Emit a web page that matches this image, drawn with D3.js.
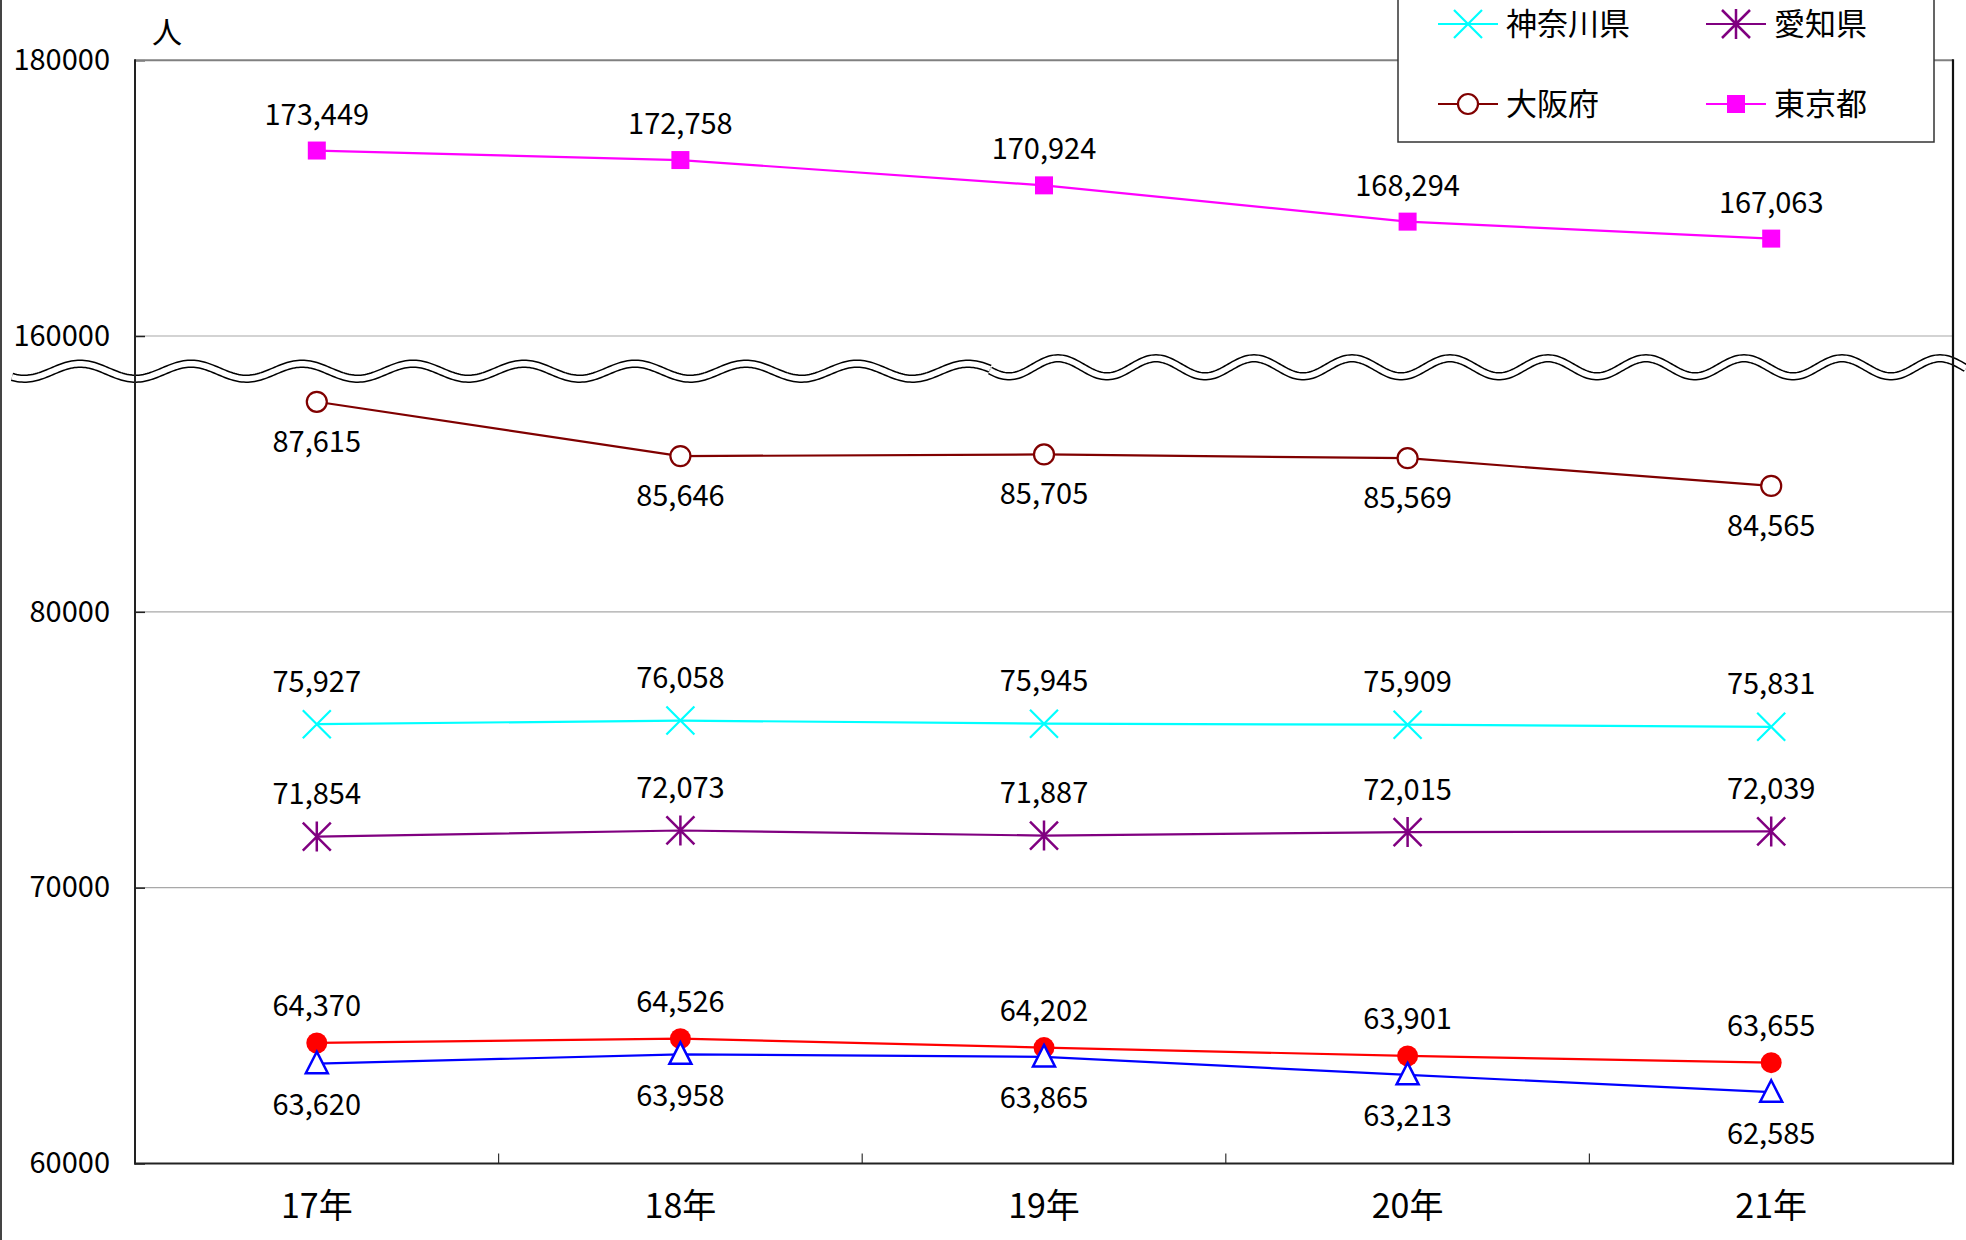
<!DOCTYPE html>
<html>
<head>
<meta charset="utf-8">
<script src="https://cdn.jsdelivr.net/npm/d3@7"></script>
<style>
  html, body { margin: 0; padding: 0; background: #fff; }
  svg { display: block; }
  text { font-family: "Noto Sans CJK JP", "Noto Sans", sans-serif; fill: #000; }
</style>
</head>
<body>
<svg id="chart" width="1966" height="1240"></svg>
<script>
// ---- data ----
const years = ["17年", "18年", "19年", "20年", "21年"];
const tokyo    = [173449, 172758, 170924, 168294, 167063];
const osaka    = [87615, 85646, 85705, 85569, 84565];
const kanagawa = [75927, 76058, 75945, 75909, 75831];
const aichi    = [71854, 72073, 71887, 72015, 72039];
const redSeries  = [64370, 64526, 64202, 63901, 63655];
const blueSeries = [63620, 63958, 63865, 63213, 62585];
const lowerTicks = [60000, 70000, 80000];
const upperTicks = [160000, 180000];
const unitLabel = "人";

const series = [
  { name: "東京都", values: tokyo, color: "#FF00FF", marker: "square", pos: "above", off: 26 },
  { name: "大阪府", values: osaka, color: "#800000", marker: "circleOpen", pos: "below", off: 50 },
  { name: "神奈川県", values: kanagawa, color: "#00FFFF", marker: "x", pos: "above", off: 32.5 },
  { name: "愛知県", values: aichi, color: "#800080", marker: "asterisk", pos: "above", off: 32.5 },
  { name: "red", values: redSeries, color: "#FF0000", marker: "circle", pos: "above", off: 27 },
  { name: "blue", values: blueSeries, color: "#0000FF", marker: "triangleOpen", pos: "below", off: 51.5 }
];
const legendItems = [
  { name: "神奈川県", color: "#00FFFF", marker: "x" },
  { name: "愛知県", color: "#800080", marker: "asterisk" },
  { name: "大阪府", color: "#800000", marker: "circleOpen" },
  { name: "東京都", color: "#FF00FF", marker: "square" }
];

// ---- layout ----
const L = 135, R = 1953, T = 60.2, B = 1163.5, BRK = 336;
const svg = d3.select("#chart");

const x = d3.scaleBand().domain(years).range([L, R]).padding(0);
const cx = d => x(d) + x.bandwidth() / 2;
const yLow = d3.scaleLinear().domain([60000, 90000]).range([B, BRK]);
const yUp = d3.scaleLinear().domain([160000, 180000]).range([BRK, T]);
const y = v => v >= 160000 ? yUp(v) : yLow(v);

// gridlines
const grid = svg.append("g");
[[yLow, [70000, 80000]], [yUp, [160000]]].forEach(([s, vals]) => {
  grid.selectAll(null).data(vals).enter().append("line")
    .attr("x1", L).attr("x2", R).attr("y1", d => s(d)).attr("y2", d => s(d))
    .attr("stroke", "#a8a8a8").attr("stroke-width", 1.2);
});

// y axes
function styleAxis(g) {
  g.select(".domain").remove();
  g.selectAll(".tick line").attr("stroke", "#222").attr("stroke-width", 1.5);
  g.selectAll(".tick text").style("font-size", "29px").style("font-family", "'Noto Sans CJK JP'").attr("fill", "#000");
}
svg.append("g").attr("transform", `translate(${L},0)`)
  .call(d3.axisLeft(yLow).tickValues(lowerTicks).tickSize(-10).tickPadding(25).tickFormat(d3.format("d")))
  .call(styleAxis);
svg.append("g").attr("transform", `translate(${L},0)`)
  .call(d3.axisLeft(yUp).tickValues(upperTicks).tickSize(-10).tickPadding(25).tickFormat(d3.format("d")))
  .call(styleAxis);

// x axis labels
const xg = svg.append("g").attr("transform", `translate(0,${B})`)
  .call(d3.axisBottom(x).tickSize(0).tickPadding(0));
xg.select(".domain").remove();
xg.selectAll(".tick text").attr("dy", null).attr("y", 54)
  .style("font-size", "34px").style("font-family", "'Noto Sans CJK JP'").attr("fill", "#000");
// x boundary ticks (inside)
svg.append("g").selectAll("line").data(years.slice(1)).enter().append("line")
  .attr("x1", d => x(d)).attr("x2", d => x(d)).attr("y1", B).attr("y2", B - 10)
  .attr("stroke", "#333").attr("stroke-width", 1.2);

// break wave (decoration)
function wavePath(x0, x1, cy, amp, period, crestX) {
  const pts = d3.range(x0, x1 + 0.5, 2).map(px => [px, cy - amp * Math.cos(2 * Math.PI * (px - crestX) / period)]);
  return d3.line()(pts);
}
const waves = [
  wavePath(12, 990, 371.2, 7.5, 111, 80),
  wavePath(990, 1966, 367.3, 9, 98, 1058)
];
const wg = svg.append("g");
waves.forEach(p => {
  wg.append("path").attr("d", p).attr("fill", "none").attr("stroke", "#000").attr("stroke-width", 8.5);
});
waves.forEach(p => {
  wg.append("path").attr("d", p).attr("fill", "none").attr("stroke", "#fff").attr("stroke-width", 5.5);
});

// frame
svg.append("line").attr("x1", L).attr("x2", R).attr("y1", T).attr("y2", T).attr("stroke", "#808080").attr("stroke-width", 2);
svg.append("line").attr("x1", L).attr("x2", L).attr("y1", T - 1).attr("y2", B + 1).attr("stroke", "#222").attr("stroke-width", 2);
svg.append("line").attr("x1", R).attr("x2", R).attr("y1", T - 1).attr("y2", B + 1).attr("stroke", "#111").attr("stroke-width", 2.2);
svg.append("line").attr("x1", L - 1).attr("x2", R + 1).attr("y1", B).attr("y2", B).attr("stroke", "#222").attr("stroke-width", 2.2);
svg.append("line").attr("x1", 1).attr("x2", 1).attr("y1", 0).attr("y2", 1240).attr("stroke", "#444").attr("stroke-width", 2);

// unit label
svg.append("text").attr("x", 167).attr("y", 43).attr("text-anchor", "middle")
  .style("font-size", "30px").text(unitLabel);

// markers
function drawMarker(g, type, color) {
  switch (type) {
    case "square":
      g.append("rect").attr("x", -9).attr("y", -9).attr("width", 18).attr("height", 18).attr("fill", color); break;
    case "circleOpen":
      g.append("circle").attr("r", 10).attr("fill", "#fff").attr("stroke", color).attr("stroke-width", 2.2); break;
    case "circle":
      g.append("circle").attr("r", 10.5).attr("fill", color); break;
    case "x":
      g.append("path").attr("d", "M-14,-14L14,14M-14,14L14,-14").attr("stroke", color).attr("stroke-width", 2.2).attr("fill", "none"); break;
    case "asterisk":
      g.append("path").attr("d", "M-14,-14L14,14M-14,14L14,-14M0,-15L0,15").attr("stroke", color).attr("stroke-width", 2.5).attr("fill", "none"); break;
    case "triangleOpen":
      g.append("path").attr("d", "M0,-12L11,9.5L-11,9.5Z").attr("fill", "#fff").attr("stroke", color).attr("stroke-width", 2.5); break;
  }
}

const line = d3.line().x(d => cx(d.cat)).y(d => y(d.v));
const fmt = d3.format(",");
series.forEach(s => {
  const pts = s.values.map((v, i) => ({ cat: years[i], v }));
  const g = svg.append("g");
  g.append("path").attr("d", line(pts)).attr("fill", "none").attr("stroke", s.color).attr("stroke-width", 2.2);
  pts.forEach(p => {
    const mg = g.append("g").attr("transform", `translate(${cx(p.cat)},${y(p.v)})`);
    drawMarker(mg, s.marker, s.color);
  });
  svg.append("g").selectAll("text").data(pts).enter().append("text")
    .attr("x", d => cx(d.cat))
    .attr("y", d => s.pos === "above" ? y(d.v) - s.off : y(d.v) + s.off)
    .attr("text-anchor", "middle").style("font-size", "29px")
    .text(d => fmt(d.v));
});

// legend
const lg = svg.append("g");
lg.append("rect").attr("x", 1398).attr("y", -10).attr("width", 536).attr("height", 152)
  .attr("fill", "#fff").attr("stroke", "#333").attr("stroke-width", 1.5);
const legendPos = [[1438, 24], [1706, 24], [1438, 104], [1706, 104]];
legendItems.forEach((it, i) => {
  const [lx, ly] = legendPos[i];
  lg.append("line").attr("x1", lx).attr("x2", lx + 60).attr("y1", ly).attr("y2", ly)
    .attr("stroke", it.color).attr("stroke-width", 2.2);
  const mg = lg.append("g").attr("transform", `translate(${lx + 30},${ly})`);
  drawMarker(mg, it.marker, it.color);
  lg.append("text").attr("x", lx + 68).attr("y", ly + 11).style("font-size", "31px").text(it.name);
});
</script>
</body>
</html>
